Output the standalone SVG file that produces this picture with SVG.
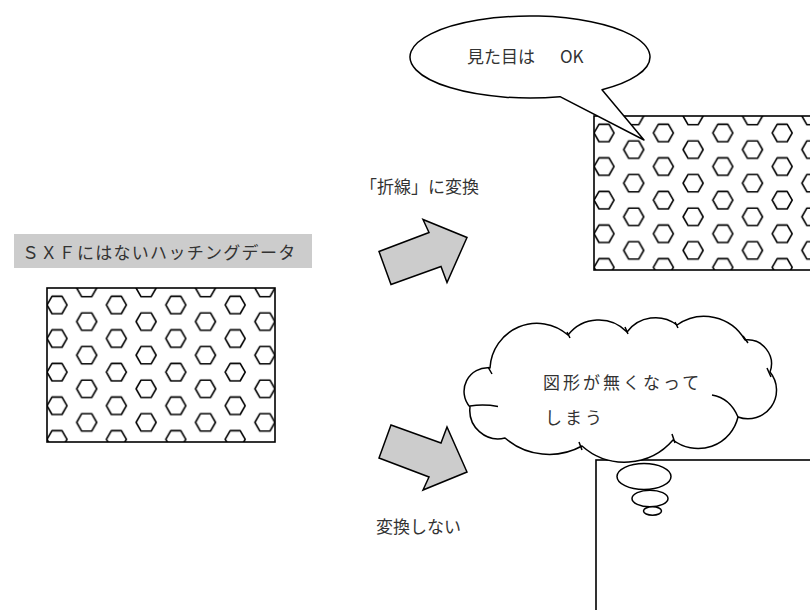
<svg xmlns="http://www.w3.org/2000/svg" width="810" height="610" viewBox="0 0 810 610">
<style>
text{font-family:"Noto Sans CJK JP","Noto Sans CJK SC",sans-serif;font-size:17px;fill:#333}
.ln{fill:none;stroke:#000;stroke-width:1.5}
.wh{fill:#fff;stroke:#000;stroke-width:1.5;stroke-linejoin:round}
.hx{fill:none;stroke:#000;stroke-width:1.6;stroke-linejoin:round}
.ar{fill:#cccccc;stroke:#000;stroke-width:1.5;stroke-linejoin:miter}
</style>
<defs>
<polygon id="hex" points="-10,0 -5,-8.7 5,-8.7 10,0 5,8.7 -5,8.7"/>
<pattern id="hatch" patternUnits="userSpaceOnUse" x="-5" y="0" width="59.4" height="33.6">
<rect width="59.4" height="33.6" fill="#fff"/>
<use href="#hex" class="hx" x="15" y="17"/>
<use href="#hex" class="hx" x="44.7" y="0"/>
<use href="#hex" class="hx" x="44.7" y="33.6"/>
</pattern>
</defs>
<rect width="810" height="610" fill="#fff"/>

<g id="label-sxf">
<rect x="14" y="234" width="298" height="34" fill="#cccccc"/>
<text x="22" y="259" letter-spacing="1.3">ＳＸＦにはないハッチングデータ</text>
</g>

<g id="hatch-source" transform="translate(47,288)">
<rect width="228" height="154" fill="url(#hatch)" stroke="#000" stroke-width="1.6"/>
</g>

<g id="hatch-polyline" transform="translate(594,116)">
<rect width="228" height="154" fill="url(#hatch)" stroke="#000" stroke-width="1.6"/>
</g>

<g id="empty-result">
<rect x="596" y="460" width="240" height="170" fill="#fff" stroke="#000" stroke-width="1.6"/>
</g>

<g id="connectors">
<polygon class="ar" points="391,284.5 441,266.5 447,282.5 467,237.5 423,219.5 429,232.5 379,251.5"/>
<polygon class="ar" points="391,425 441,443 447,427 467,472 423,490 429,477 379,458"/>
</g>

<g id="label-convert">
<text x="360" y="193">「折線」に変換</text>
</g>

<g id="label-noconvert">
<text x="376" y="533">変換しない</text>
</g>

<g id="callout-ok">
<path class="wh" d="M602,89.8 A120,41 0 1 0 560,96.7 L644,140 Z"/>
<text x="467" y="63">見た目は<tspan x="560">OK</tspan></text>
</g>

<g id="cloud">
<path class="wh" d="M470,407 A23.5,23.5 0 0 1 490,368 A47,47 0 0 1 568,335 A39,39 0 0 1 627,332 A35.6,35.6 0 0 1 677,325 A47,47 0 0 1 745,340 A24,24 0 0 1 770,372 A28.6,28.6 0 0 1 738,417 A41,41 0 0 1 673,440 A64,64 0 0 1 582,446 A68,68 0 0 1 505,438 A28.5,28.5 0 0 1 470,407 Z"/>
<path class="ln" d="M470,406 Q484,404 498,406.5 M488,367 L492,374 M567,332 L570,338 M625,327 L628,334 M675,322 L678,328 M743,336 L748,343 M767,368 L771,377 M712,395 Q730,398 738,417 M672,434 L675,443 M579,442 L582,450"/>
<ellipse class="wh" cx="644" cy="476.5" rx="27" ry="13"/>
<ellipse class="wh" cx="650" cy="498.5" rx="18" ry="8.3"/>
<ellipse class="wh" cx="652.5" cy="511" rx="9" ry="4.2"/>
<text x="543" y="389" letter-spacing="3">図形が無くなって</text>
<text x="545" y="424" letter-spacing="3">しまう</text>
</g>
</svg>
